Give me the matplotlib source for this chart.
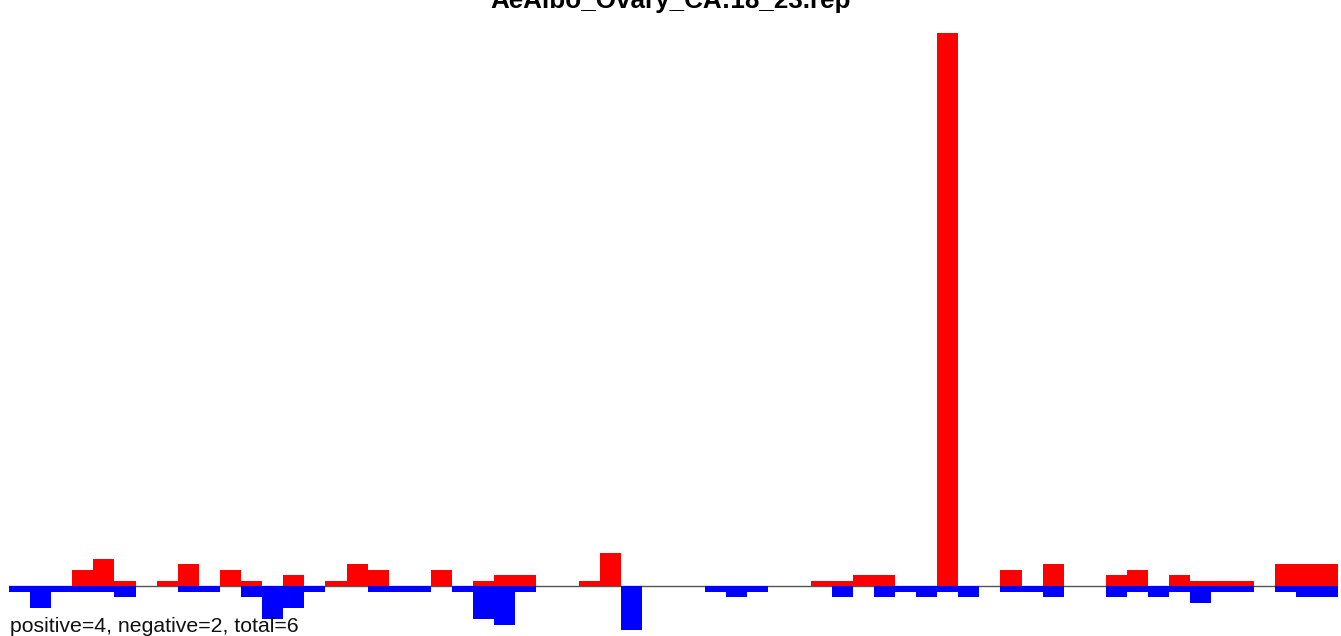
import matplotlib
matplotlib.use('Agg')
import matplotlib.pyplot as plt
import numpy as np

title = 'AeAlbo_Ovary_CA:18_23.rep'
summary = 'positive=4, negative=2, total=6'

# counts per bin (63 bins), red above the line, blue below
pos = [0, 0, 0, 3, 5, 1, 0, 1, 4, 0, 3, 1, 0, 2, 0, 1, 4, 3, 0, 0, 3,
       0, 1, 2, 2, 0, 0, 1, 6, 0, 0, 0, 0, 0, 0, 0, 0, 0, 1, 1, 2, 2,
       0, 0, 101, 0, 0, 3, 0, 4, 0, 0, 2, 3, 0, 2, 1, 1, 1, 0, 4, 4, 4]
neg = [1, 4, 1, 1, 1, 2, 0, 0, 1, 1, 0, 2, 6, 4, 1, 0, 0, 1, 1, 1, 0,
       1, 6, 7, 1, 0, 0, 0, 0, 8, 0, 0, 0, 1, 2, 1, 0, 0, 0, 2, 0, 2,
       1, 2, 1, 2, 0, 1, 1, 2, 0, 0, 2, 1, 2, 1, 3, 1, 1, 0, 1, 2, 2]

W, H = 1341, 636
fig = plt.figure(figsize=(W / 100, H / 100), dpi=100)
plt.rcParams['font.family'] = ['Liberation Sans', 'DejaVu Sans']

ax = fig.add_axes([9 / W, 6 / H, 1329 / W, 597 / H])
x = np.arange(len(pos))
ax.axhline(0, color='#555555', linewidth=1, zorder=1)
ax.bar(x, pos, width=1.0, align='edge', color='#ff0000', linewidth=0, zorder=2)
ax.bar(x, [-v for v in neg], width=1.0, align='edge', color='#0000ff', linewidth=0, zorder=2)
ax.set_xlim(0, len(pos))
ax.set_ylim(-max(neg), max(pos))
ax.axis('off')

fig.text(0.5, 1 - 8 / H, title, ha='center', va='baseline',
         fontsize=18.7, fontweight='bold')
fig.text(10 / W, 1 - 631.5 / H, summary, ha='left', va='baseline',
         fontsize=15.3, color='#111111')

fig.savefig('out.png', dpi=100)
